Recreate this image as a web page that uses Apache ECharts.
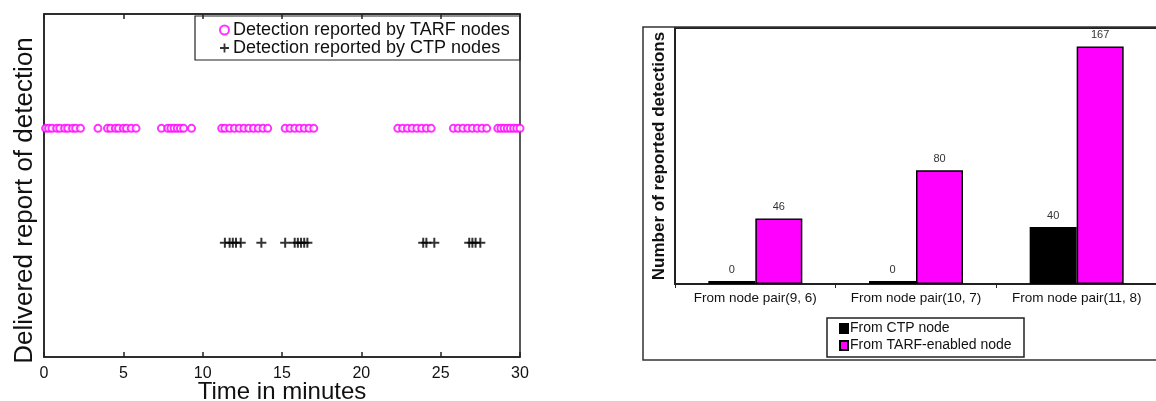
<!DOCTYPE html>
<html>
<head>
<meta charset="utf-8">
<script src="https://cdn.jsdelivr.net/npm/echarts@6/dist/echarts.min.js"></script>
<style>html,body{margin:0;padding:0;background:#fff;}#c{width:1156px;height:401px;}</style>
</head>
<body>
<div id="c"></div>
<script>
// Left chart data: detection times (minutes)
const tarfTimes = [0.1,0.3,0.5,0.8,1.0,1.3,1.5,1.8,2.0,2.3, 3.4, 4.0,4.2,4.5,4.7,5.0,5.2,5.5,5.8,
  7.4,7.8,8.0,8.2,8.4,8.6,8.8,9.3, 11.2,11.4,11.7,12.0,12.3,12.6,12.9,13.2,13.5,13.8,14.1,
  15.2,15.5,15.8,16.1,16.4,16.7,17.0, 22.3,22.6,22.9,23.2,23.5,23.8,24.1,24.4,
  25.8,26.1,26.4,26.7,27.0,27.3,27.6,27.9, 28.6,28.8,29.0,29.2,29.4,29.6,29.8,30.0];
const ctpTimes = [11.4,11.7,11.9,12.1,12.4, 13.7, 15.2, 15.8,16.0,16.2,16.4,16.6, 23.9,24.1,24.6, 26.8,27.0,27.2,27.5];
const tarfLevel = 2;
const ctpLevel = 1;

// Right chart data
const pairCategories = ['From node pair(9, 6)', 'From node pair(10, 7)', 'From node pair(11, 8)'];
const ctpCounts = [0, 0, 40];
const tarfCounts = [46, 80, 167];

const chart = echarts.init(document.getElementById('c'), null, {renderer: 'canvas'});
const plusPath = 'path://M4,0h2v4h4v2h-4v4h-2v-4h-4v-2h4z';
const txt = '#111';
chart.setOption({
  animation: false,
  textStyle: {fontFamily: 'Liberation Sans, Arial, sans-serif'},
  grid: [
    {left: 44, top: 14, width: 476, height: 343, show: true, borderColor: '#222', borderWidth: 1.5, backgroundColor: 'transparent', outerBoundsMode: 'none', containLabel: false},
    {left: 675, top: 28, width: 482, height: 256, show: true, borderColor: '#222', borderWidth: 2, backgroundColor: 'transparent', outerBoundsMode: 'none', containLabel: false}
  ],
  legend: [
    {
      orient: 'vertical', left: 219, top: 21,
      data: ['Detection reported by TARF nodes', 'Detection reported by CTP nodes'],
      padding: 0, itemGap: 0,
      itemWidth: 9, itemHeight: 9,
      textStyle: {fontSize: 18, lineHeight: 18, color: txt, padding: [0,0,0,-1]}
    },
    {
      orient: 'vertical', left: 839, top: 320,
      data: ['From CTP node', 'From TARF-enabled node'],
      padding: 0, itemGap: 0,
      itemWidth: 8, itemHeight: 9, icon: 'rect',
      textStyle: {fontSize: 14, lineHeight: 17, color: txt, padding: [0,0,0,-3]}
    }
  ],
  xAxis: [
    {gridIndex: 0, type: 'value', min: 0, max: 30, interval: 5,
      axisLine: {show: true, lineStyle: {color: '#222', width: 1.5}},
      axisTick: {show: true, inside: true, length: 5, lineStyle: {color: '#222', width: 1.5}},
      axisLabel: {fontSize: 16, color: txt, margin: 9},
      splitLine: {show: false},
      name: 'Time in minutes', nameLocation: 'middle', nameGap: 23, nameMoveOverlap: false,
      nameTextStyle: {fontSize: 24, color: txt, verticalAlign: 'top'}
    },
    {gridIndex: 0, type: 'value', position: 'top', min: 0, max: 30, interval: 5,
      axisLine: {show: true, lineStyle: {color: '#222', width: 1.5}},
      axisTick: {show: true, inside: true, length: 5, lineStyle: {color: '#222', width: 1.5}},
      axisLabel: {show: false}, splitLine: {show: false}
    },
    {gridIndex: 1, type: 'category', data: pairCategories,
      axisLine: {show: true, lineStyle: {color: '#222', width: 1.5}},
      axisTick: {show: true, length: 4, lineStyle: {color: '#222'}},
      axisLabel: {fontSize: 13.5, color: txt, margin: 7, interval: 0}
    }
  ],
  yAxis: [
    {gridIndex: 0, type: 'value', min: 0, max: 3,
      axisLine: {show: true, lineStyle: {color: '#222', width: 1.5}},
      axisTick: {show: false}, axisLabel: {show: false}, splitLine: {show: false},
      name: 'Delivered report of detection', nameLocation: 'middle', nameGap: 6,
      nameTextStyle: {fontSize: 26, color: txt, padding: [0, 30, 0, 0]}
    },
    {gridIndex: 1, type: 'value', min: 0, max: 180,
      axisLine: {show: true, lineStyle: {color: '#222', width: 1.5}},
      axisTick: {show: false}, axisLabel: {show: false}, splitLine: {show: false},
      name: 'Number of reported detections', nameLocation: 'middle', nameGap: 7,
      nameTextStyle: {fontSize: 17, fontWeight: 'bold', color: txt}
    }
  ],
  graphic: [
    {type: 'rect', shape: {x: 643, y: 27, width: 600, height: 333}, style: {fill: 'none', stroke: '#333', lineWidth: 1.5}, silent: true},
    {type: 'rect', shape: {x: 195, y: 16, width: 325, height: 44}, style: {fill: 'none', stroke: '#222', lineWidth: 1.2}, silent: true},
    {type: 'rect', shape: {x: 827, y: 318, width: 197, height: 39}, style: {fill: 'none', stroke: '#222', lineWidth: 1.5}, silent: true}
  ],
  series: [
    {name: 'Detection reported by TARF nodes', type: 'scatter', xAxisIndex: 0, yAxisIndex: 0,
      symbol: 'emptyCircle', symbolSize: 7,
      itemStyle: {color: '#ff00ff', borderColor: '#ff00ff', borderWidth: 1},
      data: tarfTimes.map(t => [t, tarfLevel])},
    {name: 'Detection reported by CTP nodes', type: 'scatter', xAxisIndex: 0, yAxisIndex: 0,
      symbol: plusPath, symbolSize: 10,
      itemStyle: {color: '#000'},
      data: ctpTimes.map(t => [t, ctpLevel])},
    {name: 'From CTP node', type: 'bar', xAxisIndex: 2, yAxisIndex: 1,
      barWidth: 47, barGap: '0%', barMinHeight: 3,
      itemStyle: {color: '#000', borderColor: '#000', borderWidth: 1.5},
      label: {show: true, position: 'top', fontSize: 11, color: '#333', distance: 6},
      data: ctpCounts},
    {name: 'From TARF-enabled node', type: 'bar', xAxisIndex: 2, yAxisIndex: 1,
      barWidth: 47, barGap: '0%',
      itemStyle: {color: '#ff00ff', borderColor: '#000', borderWidth: 1.5},
      label: {show: true, position: 'top', fontSize: 11, color: '#333', distance: 6},
      data: tarfCounts}
  ]
});
</script>
</body>
</html>
